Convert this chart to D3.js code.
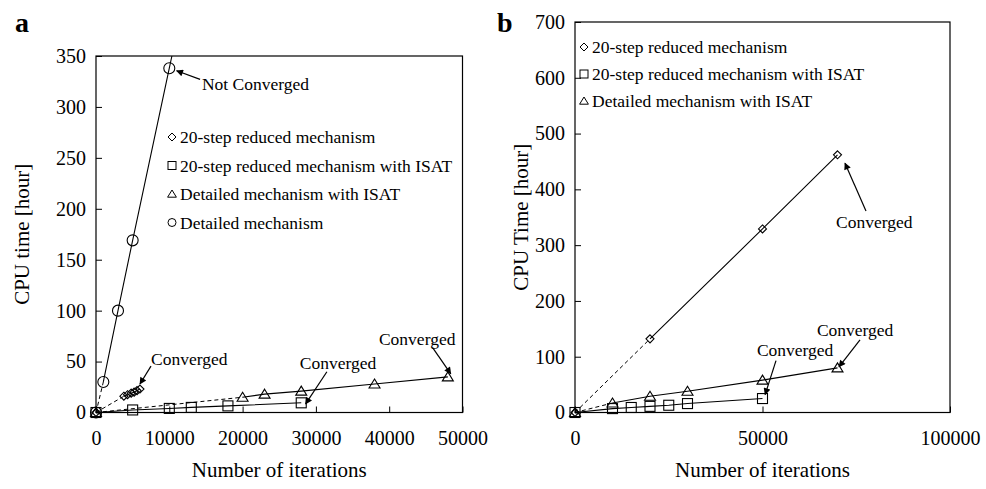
<!DOCTYPE html>
<html>
<head>
<meta charset="utf-8">
<script src="https://cdn.jsdelivr.net/npm/d3@7"></script>
<style>
  body { margin: 0; background: #fff; }
  svg { display: block; font-family: "Liberation Serif", "Times New Roman", serif; }
</style>
</head>
<body>
<svg id="chart" width="986" height="489"></svg>
<script>
// panel a data [iterations, hours]
var aDiamond = [[0, 0], [3800, 16], [4300, 17.5], [4800, 19], [5200, 20], [5600, 21.5], [6000, 23]];
var aSquare = [[0, 0], [5000, 2.5], [10000, 4], [13000, 5], [18000, 6.5], [28000, 9.5]];
var aTriangle = [[0, 0], [20000, 15], [23000, 18], [28000, 21], [38000, 28], [48000, 35]];
var aCircle = [[0, 0], [1000, 30], [3000, 100], [5000, 169], [10000, 338]];
var aXTicks = [0, 10000, 20000, 30000, 40000, 50000];
var aYTicks = [0, 50, 100, 150, 200, 250, 300, 350];

// panel b data
var bDiamond = [[0, 0], [20000, 132], [50000, 329], [70000, 462]];
var bSquare = [[0, 0], [10000, 7], [15000, 9], [20000, 11], [25000, 13], [30000, 16], [50000, 25]];
var bTriangle = [[0, 0], [10000, 17], [20000, 29], [30000, 38], [50000, 58], [70000, 80]];
var bXTicks = [0, 50000, 100000];
var bYTicks = [0, 100, 200, 300, 400, 500, 600, 700];

var legendA = ["20-step reduced mechanism", "20-step reduced mechanism with ISAT", "Detailed mechanism with ISAT", "Detailed mechanism"];
var legendB = ["20-step reduced mechanism", "20-step reduced mechanism with ISAT", "Detailed mechanism with ISAT"];

// annotations: text anchor and arrow tail/head in data units
var notesA = [
  {text: "Not Converged", at: [14450, 323], from: [14200, 327], to: [11000, 335.5]},
  {text: "Converged", at: [7500, 52.5], from: [7500, 45.5], to: [6000, 28]},
  {text: "Converged", at: [27800, 48.5], from: [31500, 40], to: [28600, 8.5]},
  {text: "Converged", at: [38600, 72], from: [45900, 64], to: [48400, 38]}
];
var notesB = [
  {text: "Converged", at: [69600, 341], from: [77600, 361], to: [72000, 447]},
  {text: "Converged", at: [48500, 112], from: [53600, 93], to: [50700, 32]},
  {text: "Converged", at: [64500, 148], from: [76000, 130], to: [70400, 82]}
];

var serif = '"Liberation Serif", "Times New Roman", serif';
var svg = d3.select("#chart");

svg.append("defs").append("marker")
    .attr("id", "arrow")
    .attr("viewBox", "0 0 10 10")
    .attr("refX", 9).attr("refY", 5)
    .attr("markerWidth", 9).attr("markerHeight", 7)
    .attr("markerUnits", "userSpaceOnUse")
    .attr("orient", "auto")
  .append("path").attr("d", "M0,0L10,5L0,10z").attr("fill", "#000");

var symbols = {
  diamond: function (g, s) {
    g.append("path").attr("d", "M0," + (-s) + "L" + s + ",0L0," + s + "L" + (-s) + ",0Z");
  },
  square: function (g, s) {
    g.append("rect").attr("x", -s).attr("y", -s).attr("width", 2 * s).attr("height", 2 * s);
  },
  triangle: function (g, s) {
    g.append("path").attr("d", "M0," + (-s) + "L" + (s * 1.1) + "," + (s * 0.8) + "L" + (-s * 1.1) + "," + (s * 0.8) + "Z");
  },
  circle: function (g, s) {
    g.append("circle").attr("r", s);
  }
};

function styleAxis(a) {
  a.select(".domain").remove();
  a.attr("font-family", serif).attr("font-size", 20);
  a.selectAll("line").attr("stroke", "#000");
  a.selectAll("text").attr("fill", "#000").style("font-family", serif);
}

function drawPanel(cfg) {
  var x = d3.scaleLinear().domain(cfg.xDomain).range([cfg.left, cfg.right]);
  var y = d3.scaleLinear().domain(cfg.yDomain).range([cfg.bottom, cfg.top]);
  var g = svg.append("g");

  g.append("g")
      .attr("transform", "translate(0," + cfg.bottom + ")")
      .call(d3.axisBottom(x).tickValues(cfg.xTicks).tickSizeInner(-6).tickSizeOuter(0).tickPadding(18).tickFormat(d3.format("d")))
      .call(styleAxis);

  g.append("g")
      .attr("transform", "translate(" + cfg.left + ",0)")
      .call(d3.axisLeft(y).tickValues(cfg.yTicks).tickSizeInner(-6).tickSizeOuter(0).tickPadding(10).tickFormat(d3.format("d")))
      .call(styleAxis);

  g.append("rect")
      .attr("x", cfg.left).attr("y", cfg.top)
      .attr("width", cfg.right - cfg.left).attr("height", cfg.bottom - cfg.top)
      .attr("fill", "none").attr("stroke", "#000").attr("stroke-width", 1.2);

  var line = d3.line().x(function (d) { return x(d[0]); }).y(function (d) { return y(d[1]); });

  cfg.series.forEach(function (s) {
    var pts = s.data;
    if (s.dashed) {
      g.append("path").attr("d", line(pts.slice(0, 2)))
          .attr("fill", "none").attr("stroke", "#000").attr("stroke-dasharray", "4,3");
      pts = pts.slice(1);
    }
    if (s.extendTo != null) {
      // continue the last segment up to the frame
      var p = pts[pts.length - 2], q = pts[pts.length - 1];
      var k = (q[1] - p[1]) / (q[0] - p[0]);
      pts = pts.concat([[q[0] + (s.extendTo - q[1]) / k, s.extendTo]]);
    }
    g.append("path").attr("d", line(pts))
        .attr("fill", "none").attr("stroke", "#000").attr("stroke-width", 1.1);
  });

  cfg.series.forEach(function (s) {
    s.data.forEach(function (d) {
      var m = g.append("g")
          .attr("transform", "translate(" + x(d[0]) + "," + y(d[1]) + ")")
          .attr("fill", "none").attr("stroke", "#000").attr("stroke-width", 1.1);
      symbols[s.symbol](m, s.size);
    });
  });

  cfg.legend.forEach(function (t, i) {
    var yy = cfg.legendY + i * cfg.legendStep;
    var m = g.append("g").attr("transform", "translate(" + cfg.legendX + "," + yy + ")")
        .attr("fill", "none").attr("stroke", "#000").attr("stroke-width", 1);
    symbols[cfg.series[i].symbol](m, 4);
    g.append("text").attr("x", cfg.legendX + 8).attr("y", yy).attr("dy", "0.35em")
        .attr("font-size", 17.5).text(t);
  });

  cfg.notes.forEach(function (n) {
    g.append("text").attr("x", x(n.at[0])).attr("y", y(n.at[1])).attr("dy", "0.35em")
        .attr("font-size", 17.5).text(n.text);
    g.append("line")
        .attr("x1", x(n.from[0])).attr("y1", y(n.from[1]))
        .attr("x2", x(n.to[0])).attr("y2", y(n.to[1]))
        .attr("stroke", "#000").attr("stroke-width", 1.2)
        .attr("marker-end", "url(#arrow)");
  });

  g.append("text")
      .attr("x", (cfg.left + cfg.right) / 2).attr("y", 470).attr("dy", "0.35em")
      .attr("text-anchor", "middle").attr("font-size", 21)
      .text("Number of iterations");

  g.append("text")
      .attr("transform", "translate(" + cfg.yTitleX + "," + ((cfg.top + cfg.bottom) / 2) + ") rotate(-90)")
      .attr("text-anchor", "middle").attr("dy", "0.35em").attr("font-size", 21)
      .text(cfg.yTitle);

  g.append("text")
      .attr("x", cfg.tagX).attr("y", 22).attr("dy", "0.35em")
      .attr("font-size", 28).attr("font-weight", "bold")
      .text(cfg.tag);
}

drawPanel({
  left: 96, right: 462.5, top: 56, bottom: 412.5,
  xDomain: [0, 50000], yDomain: [0, 350],
  xTicks: aXTicks, yTicks: aYTicks,
  series: [
    {data: aDiamond, symbol: "diamond", size: 4, dashed: true},
    {data: aSquare, symbol: "square", size: 5},
    {data: aTriangle, symbol: "triangle", size: 5, dashed: true},
    {data: aCircle, symbol: "circle", size: 5.5, dashed: true, extendTo: 350}
  ],
  legend: legendA, legendX: 172, legendY: 137, legendStep: 28.5,
  notes: notesA,
  yTitle: "CPU time [hour]", yTitleX: 22,
  tag: "a", tagX: 15
});

drawPanel({
  left: 575, right: 950, top: 22, bottom: 412.5,
  xDomain: [0, 100000], yDomain: [0, 700],
  xTicks: bXTicks, yTicks: bYTicks,
  series: [
    {data: bDiamond, symbol: "diamond", size: 4, dashed: true},
    {data: bSquare, symbol: "square", size: 5},
    {data: bTriangle, symbol: "triangle", size: 5, dashed: true}
  ],
  legend: legendB, legendX: 584, legendY: 47, legendStep: 27,
  notes: notesB,
  yTitle: "CPU Time [hour]", yTitleX: 521,
  tag: "b", tagX: 497
});
</script>
</body>
</html>
